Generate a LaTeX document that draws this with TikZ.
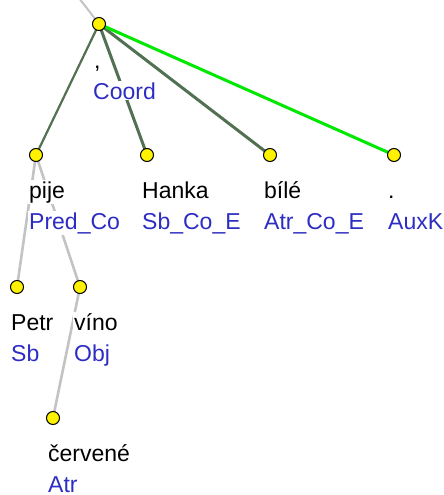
\documentclass[tikz,border=0pt]{standalone}
\usepackage{fontspec}
\setmainfont{Liberation Sans}
\usetikzlibrary{backgrounds}
\definecolor{edgegreen}{RGB}{82,112,82}
\definecolor{coordgreen}{RGB}{0,232,0}
\definecolor{edgegray}{RGB}{195,195,195}
\definecolor{afunblue}{RGB}{45,45,195}
\begin{document}
\begin{tikzpicture}[x=1pt,y=-1pt,
    tnode/.style={circle,draw=black,fill=yellow,minimum size=13pt,inner sep=0pt,line width=1pt},
    form/.style={anchor=base west,fill=white,inner sep=1pt,font=\fontsize{23}{27}\selectfont},
    afun/.style={form,text=afunblue},
    member/.style={edgegreen,line width=3pt},
    plain/.style={edgegreen,line width=2.2pt},
    aux/.style={coordgreen,line width=3pt},
    dep/.style={edgegray,line width=2.6pt}]
    \useasboundingbox (0,0) rectangle (444,495);

    % Tree nodes
    \coordinate (top) at (79,-2);
    \node[tnode] (root) at (99,24) {};
    \node[tnode] (pije) at (36,155) {};
    \node[tnode] (hanka) at (147,155) {};
    \node[tnode] (bile) at (270,155) {};
    \node[tnode] (dot) at (394,155) {};
    \node[tnode] (petr) at (17,287) {};
    \node[tnode] (vino) at (80,287) {};
    \node[tnode] (cervene) at (53,418) {};

    % Word forms and functions
    \node[form] (rootform) at ([shift={(-6,44)}]root.center) {,};
    \node[afun] (rootafun) at ([shift={(-7,75)}]root.center) {Coord};
    \node[form] (pijeform) at ([shift={(-8,43)}]pije.center) {pije};
    \node[afun] (pijeafun) at ([shift={(-8,74)}]pije.center) {Pred\_Co};
    \node[form] (hankaform) at ([shift={(-6,43)}]hanka.center) {Hanka};
    \node[afun] (hankaafun) at ([shift={(-6,74)}]hanka.center) {Sb\_Co\_E};
    \node[form] (bileform) at ([shift={(-7,43)}]bile.center) {bílé};
    \node[afun] (bileafun) at ([shift={(-7,74)}]bile.center) {Atr\_Co\_E};
    \node[form] (dotform) at ([shift={(-7,43)}]dot.center) {.};
    \node[afun] (dotafun) at ([shift={(-7,74)}]dot.center) {AuxK};
    \node[form] (petrform) at ([shift={(-7,43)}]petr.center) {Petr};
    \node[afun] (petrafun) at ([shift={(-7,74)}]petr.center) {Sb};
    \node[form] (vinoform) at ([shift={(-7,43)}]vino.center) {víno};
    \node[afun] (vinoafun) at ([shift={(-7,74)}]vino.center) {Obj};
    \node[form] (cerveneform) at ([shift={(-6,43)}]cervene.center) {červené};
    \node[afun] (cerveneafun) at ([shift={(-6,74)}]cervene.center) {Atr};

    % Edges
    \begin{scope}[on background layer]
        \draw[edgegray,line width=2pt] (top) -- (root.center);
        \draw[plain] (root.center) -- (pije.center);
        \draw[member] (root.center) -- (hanka.center);
        \draw[member] (root.center) -- (bile.center);
        \draw[aux] (root.center) -- (dot.center);
        \draw[dep] (pije.center) -- (petr.center);
        \draw[dep] (pije.center) -- (vino.center);
        \draw[dep] (vino.center) -- (cervene.center);
    \end{scope}
\end{tikzpicture}
\end{document}
